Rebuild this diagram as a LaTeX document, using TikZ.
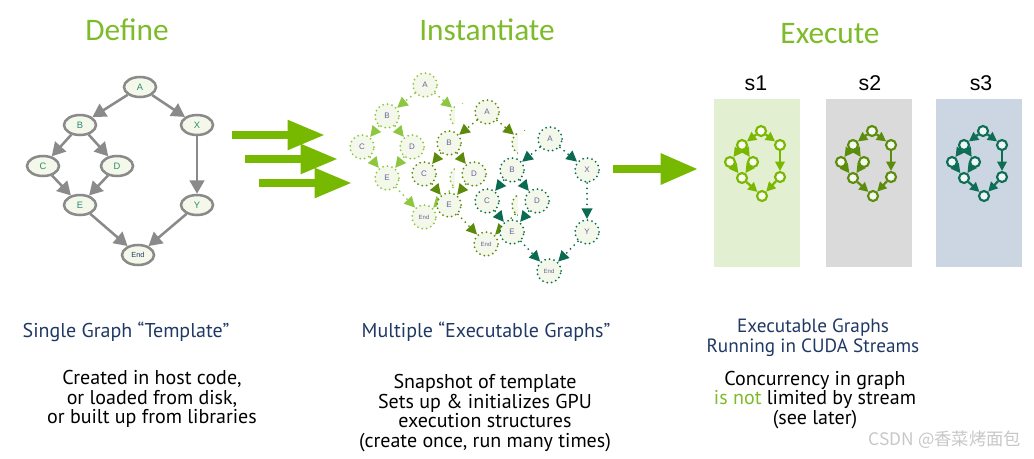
\documentclass[tikz,border=0pt]{standalone}
\usepackage{fontspec}
\setmainfont{PT Sans}
\newfontfamily\titlefont{Carlito}
\newfontfamily\labelfont{Liberation Sans}
\newfontfamily\cjkfont{Noto Sans CJK SC}
\usepackage{tikz}
\usetikzlibrary{shapes.geometric, arrows.meta}

\definecolor{nvgreen}{HTML}{76B900}
\definecolor{titlegreen}{HTML}{7DBB2A}
\definecolor{headblue}{HTML}{203864}
\definecolor{edgegray}{HTML}{8A8A8A}
\definecolor{nodefill}{HTML}{F3F8EA}
\definecolor{labelteal}{HTML}{2E8B6E}
\definecolor{instA}{HTML}{8DC63F}
\definecolor{instB}{HTML}{5C8A0A}
\definecolor{instC}{HTML}{0B6B50}
\definecolor{laneA}{HTML}{E2EFD0}
\definecolor{laneB}{HTML}{DADADA}
\definecolor{laneC}{HTML}{CCD6E2}
\definecolor{miniA}{HTML}{7AB800}
\definecolor{miniB}{HTML}{5B8C0C}
\definecolor{miniC}{HTML}{0D6E55}

\begin{document}
\begin{tikzpicture}[
  x=0.75pt, y=-0.75pt,
  title/.style={font=\titlefont\fontsize{23.5}{26}\selectfont, text=titlegreen},
  heading/.style={font=\fontsize{15}{15}\selectfont, text=headblue, align=center},
  body/.style={font=\fontsize{15}{14.8}\selectfont, align=center},
  lanelabel/.style={font=\labelfont\fontsize{16}{18}\selectfont},
  tnode/.style={ellipse, draw=edgegray, line width=1.9pt, fill=nodefill, minimum width=24pt, minimum height=15pt, inner sep=0pt, font=\labelfont\fontsize{7}{7}\selectfont, text=labelteal},
  tedge/.style={draw=edgegray, line width=1.9pt, -{Triangle[length=10pt, width=11pt]}},
  inode/.style={circle, draw=#1, line width=1.5pt, dash pattern=on 0pt off 3.4pt, line cap=round, fill=nodefill, minimum size=18pt, inner sep=0pt, font=\labelfont\fontsize{6}{6}\selectfont, text=gray!80!blue},
  iedge/.style={draw=#1, line width=1.5pt, dash pattern=on 0pt off 4pt, line cap=round, -{Triangle[length=8pt, width=8pt]}},
  mnode/.style={circle, draw=#1, line width=1.6pt, fill=white!70!#1!20, minimum size=7.5pt, inner sep=0pt},
  medge/.style={draw=#1, line width=1.7pt, -{Triangle[length=7pt, width=7pt]}},
  bigarrow/.style={draw=nvgreen, line width=6pt, -{Triangle[length=28pt, width=21pt]}}
]
\useasboundingbox (0,0) rectangle (1034,458);

% Titles
\node[title] (deftitle) at (127,30) {Define};
\node[title] (insttitle) at (487,30) {Instantiate};
\node[title] (exectitle) at (830,34) {Execute};

% Single graph template
\node[tnode] (A) at (140,87) {A};
\node[tnode] (B) at (80,125) {B};
\node[tnode] (X) at (197,125) {X};
\node[tnode] (C) at (43,166) {C};
\node[tnode] (D) at (117,166) {D};
\node[tnode] (E) at (80,205) {E};
\node[tnode] (Y) at (197,205) {Y};
\node[tnode, font=\labelfont\fontsize{5.5}{6}\selectfont, text=headblue] (End) at (138,255) {End};

\draw[tedge] (A) -- (B);
\draw[tedge] (A) -- (X);
\draw[tedge] (B) -- (C);
\draw[tedge] (B) -- (D);
\draw[tedge] (C) -- (E);
\draw[tedge] (D) -- (E);
\draw[tedge] (E) -- (End);
\draw[tedge] (X) -- (Y);
\draw[tedge] (Y) -- (End);

% Arrows into instantiate
\coordinate (f1s) at (232,135); \coordinate (f1e) at (325,135);
\coordinate (f2s) at (245,159); \coordinate (f2e) at (338,159);
\coordinate (f3s) at (259,183); \coordinate (f3e) at (352,183);
\draw[bigarrow] (f1s) -- (f1e);
\draw[bigarrow] (f2s) -- (f2e);
\draw[bigarrow] (f3s) -- (f3e);

% Executable graphs, each one laid over the one before it
\foreach \g/\col/\dx/\dy in {1/instA/0/0, 2/instB/62/27, 3/instC/125/54} {
  \begin{scope}[shift={(425+\dx,85+\dy)}]
    % hides the right branch of the graph underneath
    \ifnum\g>1 \fill[white] (-32,-8) rectangle (13,93); \fi
    \node[inode=\col] (A\g) at (0,0) {A};
    \node[inode=\col] (B\g) at (-38,31) {B};
    \node[inode=\col] (X\g) at (37,31) {X};
    \node[inode=\col] (C\g) at (-63,62) {C};
    \node[inode=\col] (D\g) at (-13,62) {D};
    \node[inode=\col] (E\g) at (-38,93) {E};
    \node[inode=\col] (Y\g) at (37,93) {Y};
    \node[inode=\col, font=\labelfont\fontsize{4.5}{5}\selectfont] (End\g) at (-1,132) {End};
    \foreach \s/\t in {A/B, A/X, B/C, B/D, C/E, D/E, E/End, X/Y, Y/End}
      \draw[iedge=\col] (\s\g) -- (\t\g);
  \end{scope}
}

% Arrow into execute
\coordinate (f4s) at (613,169); \coordinate (f4e) at (698,169);
\draw[bigarrow, -{Triangle[length=28pt, width=22pt]}] (f4s) -- (f4e);

% Streams
\fill[laneA] (714,99) rectangle (800,267);
\fill[laneB] (826,99) rectangle (912,267);
\fill[laneC] (936,99) rectangle (1022,267);
\node[lanelabel] (s1) at (756,83) {s1};
\node[lanelabel] (s2) at (870,83) {s2};
\node[lanelabel] (s3) at (981,83) {s3};

\foreach \k/\col/\dx in {1/miniA/0, 2/miniB/111, 3/miniC/222} {
  \begin{scope}[shift={(761+\dx,131)}]
    \node[mnode=\col] (a\k) at (0,0) {};
    \node[mnode=\col] (b\k) at (-19,14) {};
    \node[mnode=\col] (x\k) at (19,14) {};
    \node[mnode=\col] (c\k) at (-31,31) {};
    \node[mnode=\col] (d\k) at (-8,31) {};
    \node[mnode=\col] (e\k) at (-19,47) {};
    \node[mnode=\col] (y\k) at (19,46) {};
    \node[mnode=\col] (end\k) at (1,65) {};
    \foreach \s/\t in {a/b, a/x, b/c, b/d, c/e, d/e, e/end, x/y, y/end}
      \draw[medge=\col] (\s\k) -- (\t\k);
  \end{scope}
}

% Captions
\node[heading] (defhead) at (126,332) {Single Graph “Template”};
\node[body] (defbody) at (152,399) {Created in host code,\\or loaded from disk,\\or built up from libraries};

\node[heading] (insthead) at (486,332) {Multiple “Executable Graphs”};
\node[body] (instbody) at (485,413) {Snapshot of template\\Sets up \& initializes GPU\\execution structures\\(create once, run many times)};

\node[heading, font=\fontsize{14.4}{15}\selectfont] (exechead) at (813,338) {Executable Graphs\\Running in CUDA Streams};
\node[body] (execbody) at (815,400) {Concurrency in graph\\{\color{titlegreen}is not} limited by stream\\(see later)};

\node[font=\cjkfont\fontsize{13}{14}\selectfont, text=black!22] (mark) at (945,440) {CSDN @香菜烤面包};
\end{tikzpicture}
\end{document}
